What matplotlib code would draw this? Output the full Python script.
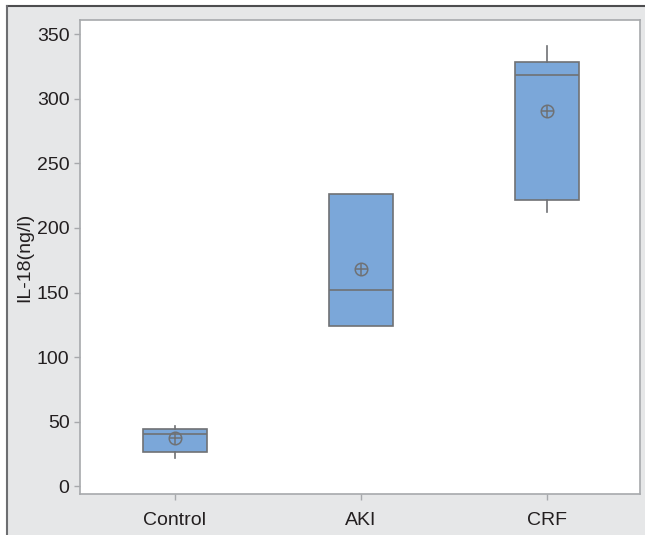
import matplotlib
matplotlib.use("Agg")
import matplotlib.pyplot as plt
from matplotlib.lines import Line2D

categories = ["Control", "AKI", "CRF"]
whisker_low = [21.8, 124.1, 212.5]
q1 = [26.9, 124.1, 221.6]
median = [40.4, 151.7, 318.8]
q3 = [44.7, 226.2, 328.5]
whisker_high = [46.8, 226.2, 340.9]
means = [37.7, 168.0, 290.6]
yticks = [0, 50, 100, 150, 200, 250, 300, 350]

plt.rcParams['font.family'] = ['Liberation Sans', 'DejaVu Sans']

bg = '#e6e7e8'
fig = plt.figure(figsize=(6.45, 5.35), dpi=100, facecolor=bg)
ax = fig.add_axes([80/645, 41/535, 560/645, 474/535])
ax.set_facecolor('white')

stats = []
for i, c in enumerate(categories):
    stats.append(dict(label=c, whislo=whisker_low[i], q1=q1[i], med=median[i],
                      q3=q3[i], whishi=whisker_high[i], fliers=[]))
pos = list(range(1, len(categories) + 1))
edge = '#6f7174'
ax.bxp(stats, positions=pos, widths=0.34, patch_artist=True, showcaps=False,
       boxprops=dict(facecolor='#7ba7d9', edgecolor=edge, linewidth=1.2),
       medianprops=dict(color=edge, linewidth=1.2),
       whiskerprops=dict(color=edge, linewidth=1.2))
ax.plot(pos, means, linestyle='none', marker='o', markersize=9,
        markerfacecolor='none', markeredgecolor=edge, markeredgewidth=1.1)
ax.plot(pos, means, linestyle='none', marker='+', markersize=9,
        markeredgecolor=edge, markeredgewidth=1.1)

ax.set_xlim(0.49, 3.5)
ax.set_ylim(-6, 361)
ax.set_yticks(yticks)
ax.set_xticks(pos)
ax.set_xticklabels(categories)
ax.set_ylabel('IL-18(ng/l)', fontsize=14, color='#231f20', labelpad=3)
ax.tick_params(axis='both', labelsize=14, labelcolor='#231f20', color='#a7a9ac',
               length=4, width=1, direction='out')
ax.tick_params(axis='x', pad=9)
for s in ax.spines.values():
    s.set_color('#a7a9ac')
    s.set_linewidth(1.2)

# outer frame lines (top and left)
fig.add_artist(Line2D([7/645, 1], [1 - 6/535, 1 - 6/535], transform=fig.transFigure,
                      color='#4d4d4f', linewidth=1.5))
fig.add_artist(Line2D([7/645, 7/645], [0, 1 - 6/535], transform=fig.transFigure,
                      color='#6d6e71', linewidth=1.5))
fig.patches.append(plt.Rectangle((0, 0), 7/645, 1, transform=fig.transFigure,
                                 facecolor='white', edgecolor='none', zorder=-1))
fig.patches.append(plt.Rectangle((0, 1 - 6/535), 1, 6/535, transform=fig.transFigure,
                                 facecolor='white', edgecolor='none', zorder=-1))

fig.savefig('out.png', dpi=100, facecolor=bg)
